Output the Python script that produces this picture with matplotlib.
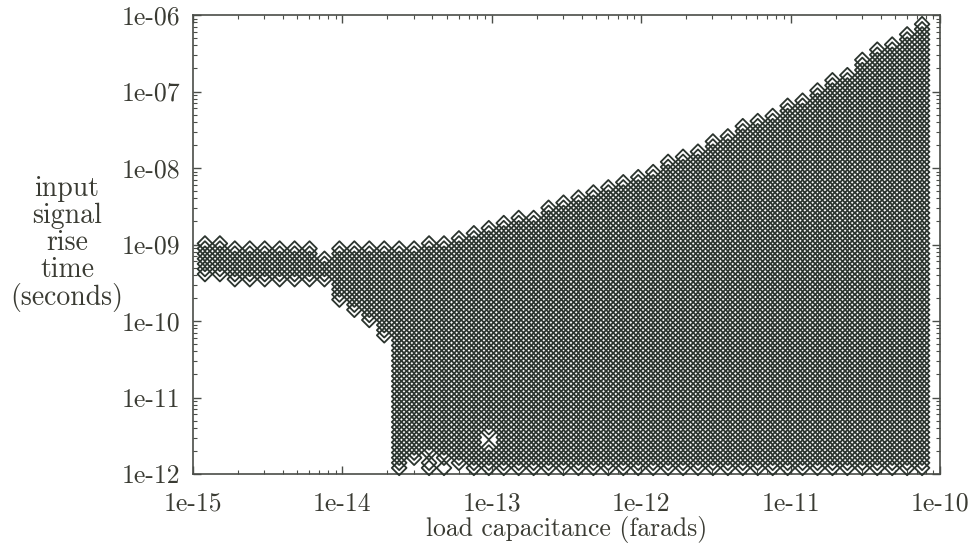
import numpy as np
import matplotlib
matplotlib.use("Agg")
import matplotlib.pyplot as plt
from matplotlib.ticker import LogLocator, NullFormatter, FixedLocator, FixedFormatter

plt.rcParams['font.family'] = ['cmr10', 'DejaVu Serif']
plt.rcParams['axes.unicode_minus'] = False

# load capacitance sample columns (log10 farads)
load_exp = [-14.92, -14.82, -14.72, -14.62, -14.52, -14.42, -14.32, -14.22, -14.12, -14.02,
            -13.92, -13.82, -13.72, -13.62, -13.52, -13.42, -13.32, -13.22, -13.12, -13.02,
            -12.92, -12.82, -12.72, -12.62, -12.52, -12.42, -12.32, -12.22, -12.12, -12.02,
            -11.92, -11.82, -11.72, -11.62, -11.52, -11.42, -11.32, -11.22, -11.12, -11.02,
            -10.92, -10.82, -10.72, -10.62, -10.52, -10.42, -10.32, -10.22, -10.12]

# lowest and highest valid rise time per column (log10 seconds)
rise_low = [-9.40, -9.40, -9.46, -9.46, -9.46, -9.46, -9.46, -9.46, -9.46, -9.72,
            -9.88, -10.05, -10.22, -11.92, -11.92, -11.92, -11.92, -11.92, -11.92, -11.92,
            -11.92, -11.92, -11.92, -11.92, -11.92, -11.92, -11.92, -11.92, -11.92, -11.92,
            -11.92, -11.92, -11.92, -11.92, -11.92, -11.92, -11.92, -11.92, -11.92, -11.92,
            -11.92, -11.92, -11.92, -11.92, -11.92, -11.92, -11.92, -11.92, -11.92]
rise_high = [-8.95, -8.95, -9.03, -9.03, -9.03, -9.03, -9.03, -9.03, -9.15, -9.03,
             -9.03, -9.03, -9.03, -9.00, -9.00, -8.98, -8.94, -8.89, -8.83, -8.77,
             -8.70, -8.64, -8.59, -8.51, -8.44, -8.36, -8.28, -8.20, -8.14, -8.07,
             -7.99, -7.91, -7.83, -7.74, -7.64, -7.53, -7.45, -7.36, -7.27, -7.18,
             -7.09, -6.97, -6.83, -6.73, -6.58, -6.45, -6.34, -6.24, -6.11]

# sampled rise-time rows (log10 seconds)
row_base = -11.92
row_step = 1.0 / 15.0
n_rows = 90

# sample points missing from the grid (column index, row index)
missing = [(14, 0), (14, 1), (15, 2), (16, 1), (17, 0), (19, 5), (19, 6)]

xs, ys = [], []
rows = [row_base + j * row_step for j in range(n_rows)]
for k, xe in enumerate(load_exp):
    for j, ye in enumerate(rows):
        if rise_low[k] - 1e-6 <= ye <= rise_high[k] + 1e-6 and (k, j) not in missing:
            xs.append(10 ** xe)
            ys.append(10 ** ye)

x_ticks = [1e-15, 1e-14, 1e-13, 1e-12, 1e-11, 1e-10]
x_tick_labels = ['1e-15', '1e-14', '1e-13', '1e-12', '1e-11', '1e-10']
y_ticks = [1e-12, 1e-11, 1e-10, 1e-9, 1e-8, 1e-7, 1e-6]
y_tick_labels = ['1e-12', '1e-11', '1e-10', '1e-09', '1e-08', '1e-07', '1e-06']

text_col = '#3a3b33'
mark_col = '#2b342e'
frame_col = '#4a4d48'

fig = plt.figure(figsize=(9.8, 5.51), dpi=100)
ax = fig.add_axes([193 / 980, 77 / 551, 747 / 980, 459 / 551])
ax.set_xscale('log')
ax.set_yscale('log')
ax.set_xlim(1e-15, 1e-10)
ax.set_ylim(1e-12, 1e-6)

sc = ax.scatter(xs, ys, marker='D', s=7.5 ** 2, facecolors='none',
                edgecolors=mark_col, linewidths=1.3, clip_on=False, zorder=3)
sc.set_snap(False)

ax.xaxis.set_major_locator(FixedLocator(x_ticks))
ax.xaxis.set_major_formatter(FixedFormatter(x_tick_labels))
ax.yaxis.set_major_locator(FixedLocator(y_ticks))
ax.yaxis.set_major_formatter(FixedFormatter(y_tick_labels))
ax.xaxis.set_minor_locator(LogLocator(base=10, subs=np.arange(2, 10), numticks=50))
ax.yaxis.set_minor_locator(LogLocator(base=10, subs=np.arange(2, 10), numticks=50))
ax.xaxis.set_minor_formatter(NullFormatter())
ax.yaxis.set_minor_formatter(NullFormatter())

ax.tick_params(which='both', direction='in', top=True, right=True, color=frame_col,
               labelsize=18.5, labelcolor=text_col)
ax.tick_params(axis='x', which='major', length=6, width=1.0, pad=13)
ax.tick_params(axis='y', which='major', length=6, width=1.0, pad=9)
ax.tick_params(which='minor', length=3.2, width=0.8)
for s in ax.spines.values():
    s.set_color(frame_col)
    s.set_linewidth(1.2)

ax.set_xlabel('load capacitance (farads)', fontsize=18.5, color=text_col, labelpad=0)
fig.text(67 / 980, 1 - 244 / 551, 'input\nsignal\nrise\ntime\n(seconds)', ha='center', va='center',
         fontsize=20, color=text_col, linespacing=1.02)

fig.savefig('out.png', dpi=100)
